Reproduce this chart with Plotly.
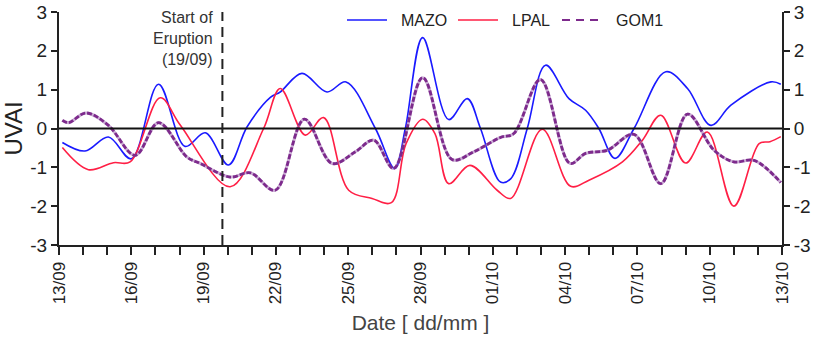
import plotly.graph_objects as go

# Day offsets from 13/09 and UVAI values for each station
mazo_day = [0.14, 1.08, 2.05, 3.0, 4.13, 5.23, 6.07, 7.03, 7.8, 8.77, 9.18, 10.08,
            11.12, 11.91, 13.13, 13.93, 14.37, 15.09, 16.17, 16.94, 17.49, 18.32,
            18.75, 19.43, 20.19, 21.16, 21.85, 22.4, 23.07, 23.86, 25.18, 26.08,
            27.05, 27.88, 29.54, 29.95]
mazo_val = [-0.36, -0.58, -0.22, -0.78, 1.14, -0.46, -0.11, -0.94, 0.04, 0.8, 0.94, 1.42,
            0.94, 1.2, 0.0, -1.03, 0.0, 2.34, 0.23, 0.77, 0.0, -1.38,
            -1.29, 0.0, 1.63, 0.77, 0.47, 0.0, -0.77, 0.0, 1.46, 1.03,
            0.08, 0.6, 1.2, 1.14]

lpal_day = [0.14, 1.22, 2.26, 2.95, 4.2, 5.03, 7.1, 8.49, 9.18, 10.22, 10.98, 12.02,
            12.99, 13.79, 14.4, 15.09, 15.6, 16.17, 17.05, 18.18, 18.74, 20.05,
            21.23, 21.99, 23.38, 24.21, 24.97, 26.0, 26.9, 28.0, 29.05, 29.5, 29.95]
lpal_val = [-0.49, -1.06, -0.88, -0.86, 0.79, 0.09, -1.5, 0.0, 1.03, -0.17, 0.28, -1.59,
            -1.8, -1.91, -0.39, 0.24, -0.13, -1.42, -0.95, -1.59, -1.8, -0.02,
            -1.49, -1.33, -0.86, -0.3, 0.34, -0.89, -0.09, -2.0, -0.39, -0.34, -0.21]

gom1_day = [0.14, 0.4, 1.12, 2.05, 3.16, 4.13, 5.3, 5.86, 7.1, 7.94, 8.97, 10.18,
            11.33, 12.3, 13.06, 13.89, 15.09, 16.31, 17.21, 18.32, 18.87, 19.98,
            21.2, 21.85, 22.75, 23.86, 24.97, 26.08, 27.18, 28.0, 28.84, 29.95]
gom1_val = [0.21, 0.15, 0.4, 0.08, -0.69, 0.15, -0.73, -0.9, -1.25, -1.14, -1.59, 0.24,
            -0.9, -0.6, -0.3, -1.03, 1.31, -0.8, -0.6, -0.23, -0.13, 1.26,
            -0.9, -0.64, -0.56, -0.15, -1.42, 0.37, -0.56, -0.86, -0.82, -1.39]

tick_days = [0, 3, 6, 9, 12, 15, 18, 21, 24, 27, 30]
tick_labels = ["13/09", "16/09", "19/09", "22/09", "25/09", "28/09",
               "01/10", "04/10", "07/10", "10/10", "13/10"]
uvai_ticks = [-3, -2, -1, 0, 1, 2, 3]
uvai_labels = ["-3", "-2", "-1", "0", "1", "2", "3"]
eruption_day = 6.78

FONT = "Liberation Sans, Arial, sans-serif"
AX = "#222222"
BLUE = "#1a1aff"
RED = "#ff1f45"
PURPLE = "#7d2a8c"

fig = go.Figure()
fig.add_trace(go.Scatter(x=mazo_day, y=mazo_val, mode="lines", name="MAZO",
                         line=dict(color=BLUE, width=1.6, shape="spline", smoothing=1.0)))
fig.add_trace(go.Scatter(x=lpal_day, y=lpal_val, mode="lines", name="LPAL",
                         line=dict(color=RED, width=1.6, shape="spline", smoothing=1.0)))
fig.add_trace(go.Scatter(x=gom1_day, y=gom1_val, mode="lines", name="GOM1",
                         line=dict(color="rgba(150,90,170,0.5)", width=3, shape="spline", smoothing=1.0),
                         showlegend=False, hoverinfo="skip"))
fig.add_trace(go.Scatter(x=gom1_day, y=gom1_val, mode="lines", name="GOM1",
                         line=dict(color=PURPLE, width=2.8, dash="5px,2px", shape="spline", smoothing=1.0)))
# invisible trace so the right-hand axis is drawn
fig.add_trace(go.Scatter(x=[0], y=[0], yaxis="y2", mode="markers", marker=dict(opacity=0),
                         showlegend=False, hoverinfo="skip"))

# zero reference line and eruption marker
fig.add_hline(y=0, line=dict(color="#111111", width=2))
fig.add_vline(x=eruption_day, line=dict(color=AX, width=2, dash="10px,6px"))

fig.add_annotation(x=eruption_day, xref="x", y=1, yref="paper", xanchor="right", yanchor="top",
                   xshift=-7, yshift=5, align="right",
                   text="Start of<br>Eruption<br>(19/09)", showarrow=False,
                   font=dict(family=FONT, size=16, color="#333333"))

# legend drawn as line samples plus labels along the top
legend_items = [("MAZO", BLUE, "solid", 1.6, 347, 399),
                ("LPAL", RED, "solid", 1.6, 458, 510),
                ("GOM1", PURPLE, "8px,6px", 2.2, 562, 614)]
W, L, R = 820, 59, 38
pw = W - L - R
ly = 1.0 - (20 - 12) / 233
for name, col, dash, wd, x0, xt in legend_items:
    fig.add_shape(type="line", xref="paper", yref="paper",
                  x0=(x0 - L) / pw, x1=(x0 + 40 - L) / pw, y0=ly, y1=ly,
                  line=dict(color=col, width=wd, dash=dash))
    fig.add_annotation(x=(xt - L) / pw, y=ly, xref="paper", yref="paper",
                       xanchor="left", yanchor="middle", text=name, showarrow=False,
                       font=dict(family=FONT, size=16, color="#222222"))

axis_common = dict(showgrid=False, zeroline=False, showline=True, linecolor=AX, linewidth=2,
                   ticks="outside", tickcolor=AX, tickwidth=2, automargin=False)
yfont = dict(family=FONT, size=19, color="#222222")

fig.update_layout(
    width=820, height=337,
    margin=dict(l=L, r=R, t=12, b=92),
    paper_bgcolor="white", plot_bgcolor="white",
    showlegend=False,
    xaxis=dict(range=[0, 30], tickvals=tick_days, ticktext=tick_labels, tickangle=-90,
               ticklen=8, minor=dict(dtick=1, ticklen=8, tickcolor=AX, tickwidth=2, ticks="outside"),
               tickfont=dict(family=FONT, size=17, color="#222222"),
               title=dict(text="Date [ dd/mm ]", font=dict(family=FONT, size=21, color="#444444"),
                          standoff=12),
               **axis_common),
    yaxis=dict(range=[-3, 3], tickvals=uvai_ticks, ticktext=uvai_labels, ticklen=6,
               tickfont=yfont,
               title=dict(text="UVAI", font=dict(family=FONT, size=24, color="#222222"), standoff=2),
               **axis_common),
    yaxis2=dict(range=[-3, 3], tickvals=uvai_ticks, ticktext=uvai_labels, ticklen=6,
                overlaying="y", side="right", tickfont=yfont,
                **axis_common),
)

fig.write_html("out.html")
